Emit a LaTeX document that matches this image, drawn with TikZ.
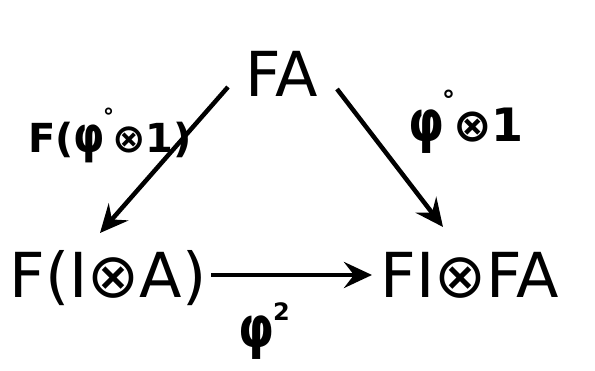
\documentclass[tikz,border=0pt]{standalone}
\usepackage{fontspec}
\usepackage{graphicx}
\setmainfont{DejaVu Sans}
\usetikzlibrary{arrows.meta}
\newcommand{\bigphi}{\scalebox{1}[1.25]{φ}}
\begin{document}
\begin{tikzpicture}[x=1pt,y=1pt,
  obj/.style={inner sep=2pt, font=\fontsize{62}{70}\selectfont},
  lab/.style={inner sep=1pt, font=\bfseries\fontsize{40}{46}\selectfont},
  arr/.style={line width=4.5pt, -{Stealth[length=28pt,width=26pt,inset=10pt]}}]
\useasboundingbox (0,0) rectangle (595,371);
\node[obj] (fa) at (282,297) {FA};
\node[obj] (fia) at (108,93) {F(I⊗A)};
\node[obj] (fifa) at (470,96) {FI⊗FA};
\coordinate (a1) at (228,284);
\coordinate (b1) at (100,138);
\coordinate (a2) at (337,282);
\coordinate (b2) at (443,144);
\coordinate (a3) at (211,96);
\coordinate (b3) at (372,96);
\draw[arr] (a1) -- (b1);
\draw[arr] (a2) -- (b2);
\draw[arr] (a3) -- (b3);
\node[lab] (l1) at (110,236) {F(\bigphi\kern-2pt\raisebox{0.7em}{\fontsize{22}{22}\selectfont°}\kern-2pt⊗1)};
\node[lab,font=\bfseries\fontsize{46}{50}\selectfont] (l2) at (466,249) {\bigphi\kern-2pt\raisebox{0.7em}{\fontsize{26}{26}\selectfont°}\kern-2pt⊗1};
\node[lab,font=\bfseries\fontsize{46}{50}\selectfont] (l3) at (264,40) {\bigphi\kern-1pt\raisebox{0.6em}{\fontsize{24}{24}\selectfont 2}};
\end{tikzpicture}
\end{document}
